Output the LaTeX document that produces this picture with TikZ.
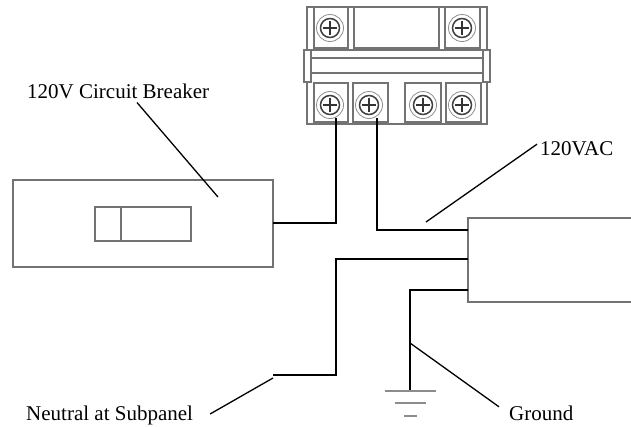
\documentclass[tikz,border=0pt]{standalone}
\usepackage{fontspec}
\setmainfont{Liberation Serif}
\usetikzlibrary{calc}
\tikzset{every node/.style={font=\fontsize{21}{24}\selectfont}}

\begin{document}
\begin{tikzpicture}[
  x=1pt, y=-1pt,
  every node/.style={inner sep=0pt, font=\fontsize{21}{24}\selectfont},
  wire/.style={line width=2.2pt, line cap=square},
  leader/.style={line width=1.3pt},
  outline/.style={draw=black!55, line width=1.1pt},
  screw/.style={circle, draw=black!45, line width=0.8pt, minimum size=27pt}
% all coordinates are in pixels of the original, y pointing down
]
\useasboundingbox (0,0) rectangle (631,426);

% labels
\path (27,98) node[anchor=base west] (cb) {120V Circuit Breaker};
\path (540,155) node[anchor=base west] (vac) {120VAC};
\path (26,420) node[anchor=base west] (neu) {Neutral at Subpanel};
\path (509,420) node[anchor=base west] (gnd) {Ground};

% solid state relay
\begin{scope}[outline]
\draw (307,50) |- (487,7) -- (487,50);
\draw (307,82) |- (487,124) -- (487,82);
\draw (304,50) rectangle (311,82);
\draw (483,50) rectangle (490,82);
\draw (311,50) -- (483,50);
\draw (311,58) rectangle (483,73);
\draw (314,7) rectangle (348,48);
\draw (354,7) rectangle (439,48);
\draw (445,7) rectangle (480,48);
\draw (314,83) rectangle (348,122);
\draw (353,83) rectangle (388,122);
\draw (405,83) rectangle (441,122);
\draw (446,83) rectangle (481,122);
\end{scope}
\foreach \n/\x/\y in {a/330/28, b/462/28, c/330/105, d/369/105, e/423/105, f/462/105}{
  \node[screw] (s\n) at (\x,\y) {};
  \draw[black!75, line width=1.5pt] (s\n) circle (9.5pt);
  \draw[black!80, line width=2.8pt] ($(s\n)+(-7,0)$) -- ($(s\n)+(7,0)$)
                                    ($(s\n)+(0,-7)$) -- ($(s\n)+(0,7)$);
}

% breaker and load box
\draw[outline] (13,180) rectangle (273,267);
\draw[outline] (95,207) rectangle (191,241);
\draw[outline] (121,207) -- (121,241);
\draw[outline] (631,218) -| (468,302) -- (631,302);

% terminals
\coordinate (t1) at (336,118);
\coordinate (t2) at (377,118);
\coordinate (cbout) at (273,223);
\coordinate (hot) at (468,230);
\coordinate (nin) at (468,259);
\coordinate (gin) at (468,290);
\coordinate (nend) at (273,375);
\coordinate (gnode) at (410,391);

% wires
\draw[wire] (t1) |- (cbout);
\draw[wire] (t2) |- (hot);
\draw[wire] (nin) -| (336,375) -- (nend);
\draw[wire] (gin) -| (gnode);

% ground symbol
\begin{scope}[draw=black!45, line width=1.8pt]
\draw ($(gnode)+(-25,0)$) -- ($(gnode)+(26,0)$);
\draw ($(gnode)+(-15,12)$) -- ($(gnode)+(16,12)$);
\draw ($(gnode)+(-6,25)$) -- ($(gnode)+(7,25)$);
\end{scope}

% leaders
\coordinate (cbtip) at (218,197);
\coordinate (vactip) at (426,222);
\coordinate (neutip) at (273,378);
\coordinate (gndtip) at (410,343);
\draw[leader] ($(cb.south west)+(110,4)$) -- (cbtip);
\draw[leader] ($(vac.west)+(-3,-4)$) -- (vactip);
\draw[leader] ($(neu.east)+(17,-1)$) -- (neutip);
\draw[leader] ($(gnd.west)+(-10,-6)$) -- (gndtip);
\end{tikzpicture}
\end{document}
